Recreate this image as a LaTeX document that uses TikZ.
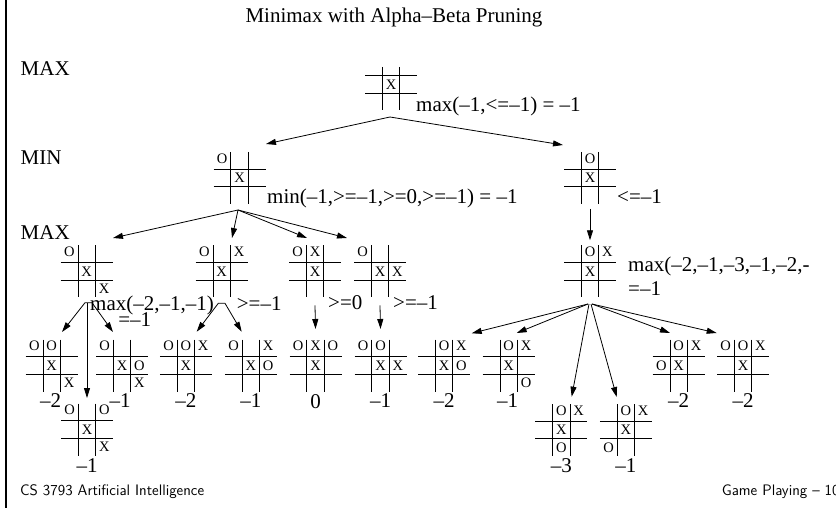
\documentclass[tikz,border=0pt]{standalone}
\usepackage{fontspec}
\setmainfont{Liberation Serif}
\usetikzlibrary{arrows.meta,calc}

% cell pitch of a tic-tac-toe board
\newcommand\tttpitch{17.3}

% the four grid lines of a board node; optional argument = how far the
% vertical lines reach above the centre
\newcommand\tttgrid[2][26]{%
  \draw[gridline]
    ([shift={(-8.65,-#1)}]#2.center) -- ([shift={(-8.65,26)}]#2.center)
    ([shift={(8.65,-#1)}]#2.center)  -- ([shift={(8.65,26)}]#2.center)
    ([shift={(-26,-8.65)}]#2.center) -- ([shift={(26,-8.65)}]#2.center)
    ([shift={(-26,8.65)}]#2.center)  -- ([shift={(26,8.65)}]#2.center);}

% one mark in column #2, row #3 (1..3) of board #1
\newcommand\tttmark[4]{%
  \node[ttt] (#1#2#3) at ([shift={({(#2-2)*\tttpitch},{(#3-2)*\tttpitch-(#3==1)*2})}]#1.center) {#4};}

\tikzset{
  gridline/.style={line width=0.8pt},
  board/.style={minimum size=52pt, inner sep=0pt, outer sep=0pt},
  ttt/.style={font=\fontsize{14.5}{14.5}\selectfont, inner sep=0pt},
  lbl/.style={font=\fontsize{21}{24}\selectfont, inner sep=0pt, anchor=base west},
  val/.style={font=\fontsize{21}{24}\selectfont, inner sep=0pt, anchor=base},
  arr/.style={line width=0.8pt, -{Triangle[length=10pt,width=6pt]}},
  foot/.style={font=\sffamily\fontsize{15.2}{17}\selectfont, inner sep=0pt, anchor=base west},
}

\begin{document}
\begin{tikzpicture}[x=1pt,y=-1pt]
\useasboundingbox (0,0) rectangle (836,508);

% left margin rule
\draw[line width=2pt] (6,-2) -- (6,510);

% title and level names
\node[val] (title) at (394,22.7) {Minimax with Alpha–Beta Pruning};
\node[lbl] (lvmax) at (20.5,76) {MAX};
\node[lbl] (lvmin) at (20.5,164.3) {MIN};
\node[lbl] (lvmaxb) at (20.5,239.3) {MAX};

% ---------------- boards ----------------
\node[board] (r)  at (391,84.5) {};
\node[board] (a)  at (239.5,178) {};
\node[board] (b)  at (590,178) {};
\node[board] (ca) at (86.7,271.3) {};
\node[board] (cb) at (221.7,271.3) {};
\node[board] (cc) at (315,271.3) {};
\node[board] (cd) at (380,271.3) {};
\node[board] (d)  at (590,271.3) {};
\node[board] (ea) at (51.7,365.5) {};
\node[board] (eb) at (122,365.5) {};
\node[board] (ec) at (87,429.5) {};
\node[board] (ed) at (185.8,365.5) {};
\node[board] (ee) at (250.8,365.5) {};
\node[board] (ef) at (315.5,365.5) {};
\node[board] (eg) at (380.5,365.5) {};
\node[board] (fa) at (444,365.5) {};
\node[board] (fb) at (508.7,365.5) {};
\node[board] (fc) at (561.3,430) {};
\node[board] (fd) at (625.8,430) {};
\node[board] (fe) at (678.7,365.5) {};
\node[board] (ff) at (743,365.5) {};

\tttgrid[17.5]{r}
\foreach \bd in {a,b,ca,cb,cc,cd,d,ea,eb,ec,ed,ee,ef,eg,fa,fb,fc,fd,fe,ff}{\tttgrid{\bd}}

% marks
\tttmark{r}{2}{2}{X}
\tttmark{a}{1}{1}{O}\tttmark{a}{2}{2}{X}
\tttmark{b}{2}{1}{O}\tttmark{b}{2}{2}{X}
\tttmark{ca}{1}{1}{O}\tttmark{ca}{2}{2}{X}\tttmark{ca}{3}{3}{X}
\tttmark{cb}{1}{1}{O}\tttmark{cb}{3}{1}{X}\tttmark{cb}{2}{2}{X}
\tttmark{cc}{1}{1}{O}\tttmark{cc}{2}{1}{X}\tttmark{cc}{2}{2}{X}
\tttmark{cd}{1}{1}{O}\tttmark{cd}{2}{2}{X}\tttmark{cd}{3}{2}{X}
\tttmark{d}{2}{1}{O}\tttmark{d}{3}{1}{X}\tttmark{d}{2}{2}{X}
\tttmark{ea}{1}{1}{O}\tttmark{ea}{2}{1}{O}\tttmark{ea}{2}{2}{X}\tttmark{ea}{3}{3}{X}
\tttmark{eb}{1}{1}{O}\tttmark{eb}{2}{2}{X}\tttmark{eb}{3}{2}{O}\tttmark{eb}{3}{3}{X}
\tttmark{ec}{1}{1}{O}\tttmark{ec}{3}{1}{O}\tttmark{ec}{2}{2}{X}\tttmark{ec}{3}{3}{X}
\tttmark{ed}{1}{1}{O}\tttmark{ed}{2}{1}{O}\tttmark{ed}{3}{1}{X}\tttmark{ed}{2}{2}{X}
\tttmark{ee}{1}{1}{O}\tttmark{ee}{3}{1}{X}\tttmark{ee}{2}{2}{X}\tttmark{ee}{3}{2}{O}
\tttmark{ef}{1}{1}{O}\tttmark{ef}{2}{1}{X}\tttmark{ef}{3}{1}{O}\tttmark{ef}{2}{2}{X}
\tttmark{eg}{1}{1}{O}\tttmark{eg}{2}{1}{O}\tttmark{eg}{2}{2}{X}\tttmark{eg}{3}{2}{X}
\tttmark{fa}{2}{1}{O}\tttmark{fa}{3}{1}{X}\tttmark{fa}{2}{2}{X}\tttmark{fa}{3}{2}{O}
\tttmark{fb}{2}{1}{O}\tttmark{fb}{3}{1}{X}\tttmark{fb}{2}{2}{X}\tttmark{fb}{3}{3}{O}
\tttmark{fc}{2}{1}{O}\tttmark{fc}{3}{1}{X}\tttmark{fc}{2}{2}{X}\tttmark{fc}{2}{3}{O}
\tttmark{fd}{2}{1}{O}\tttmark{fd}{3}{1}{X}\tttmark{fd}{2}{2}{X}\tttmark{fd}{1}{3}{O}
\tttmark{fe}{2}{1}{O}\tttmark{fe}{3}{1}{X}\tttmark{fe}{1}{2}{O}\tttmark{fe}{2}{2}{X}
\tttmark{ff}{1}{1}{O}\tttmark{ff}{2}{1}{O}\tttmark{ff}{3}{1}{X}\tttmark{ff}{2}{2}{X}

% ---------------- backed-up values ----------------
\node[lbl] (rl)  at ([shift={(25,27.5)}]r.center) {max(–1,<=–1) = –1};
\node[lbl] (al)  at ([shift={(27.5,26)}]a.center) {min(–1,>=–1,>=0,>=–1) = –1};
\node[lbl] (bl)  at ([shift={(27,26)}]b.center) {<=–1};
\node[lbl] (cal) at ([shift={(3.3,38.7)}]ca.center) {max(–2,–1,–1)};
\node[lbl] (cal2) at ([shift={(31.5,55.4)}]ca.center) {=–1};
\node[lbl] (cbl) at ([shift={(15,38.7)}]cb.center) {>=–1};
\node[lbl] (ccl) at ([shift={(13,38)}]cc.center) {>=0};
\node[lbl] (cdl) at ([shift={(13,38)}]cd.center) {>=–1};
\node[lbl] (dl)  at ([shift={(38,0.4)}]d.center) {max(–2,–1,–3,–1,–2,-};
\node[lbl] (dl2) at ([shift={(38,23.7)}]d.center) {=–1};

\node[val] (eav) at ([shift={(-1,41.5)}]ea.center) {–2};
\node[val] (ebv) at ([shift={(-2,41.5)}]eb.center) {–1};
\node[val] (ecv) at ([shift={(0,43)}]ec.center) {–1};
\node[val] (edv) at ([shift={(0,41.5)}]ed.center) {–2};
\node[val] (eev) at ([shift={(0,41.5)}]ee.center) {–1};
\node[val] (efv) at ([shift={(0,42.5)}]ef.center) {0};
\node[val] (egv) at ([shift={(0,41.5)}]eg.center) {–1};
\node[val] (fav) at ([shift={(0,41.5)}]fa.center) {–2};
\node[val] (fbv) at ([shift={(-1,41.5)}]fb.center) {–1};
\node[val] (fcv) at ([shift={(0,42)}]fc.center) {–3};
\node[val] (fdv) at ([shift={(0,42)}]fd.center) {–1};
\node[val] (fev) at ([shift={(0,41.5)}]fe.center) {–2};
\node[val] (ffv) at ([shift={(0,41.5)}]ff.center) {–2};

% ---------------- moves ----------------
\draw[arr] ([shift={(-1,32.5)}]r.center) -- ([shift={(26.5,-34)}]a.center);
\draw[arr] ([shift={(-1,32.5)}]r.center) -- ([shift={(-27,-33)}]b.center);

\draw[arr] ([shift={(-1.5,32)}]a.center) -- ([shift={(26.3,-33.3)}]ca.center);
\draw[arr] ([shift={(-1.5,32)}]a.center) -- ([shift={(10.3,-33.3)}]cb.center);
\draw[arr] ([shift={(-1.5,32)}]a.center) -- ([shift={(-8,-33.3)}]cc.center);
\draw[arr] ([shift={(-1.5,32)}]a.center) -- ([shift={(-33,-33.3)}]cd.center);

\draw[arr] ([shift={(0,31)}]b.center) -- ([shift={(0,-31)}]d.center);

\draw[arr] ([shift={(5.3,31.4)}]ca.center) -- ([shift={(-1.7,31.4)}]ca.center) -- ([shift={(10.3,-33.5)}]ea.center);
\draw[arr] ([shift={(5.3,31.4)}]ca.center) -- ([shift={(-9,-33.5)}]eb.center);
\draw[arr] ([shift={(0.3,31.4)}]ca.center) -- ([shift={(0,-31.5)}]ec.center);

\draw[arr] ([shift={(3.3,32)}]cb.center) -- ([shift={(-3.4,32)}]cb.center) -- ([shift={(10.9,-33.8)}]ed.center);
\draw[arr] ([shift={(3.3,32)}]cb.center) -- ([shift={(-9.1,-33.8)}]ee.center);

\draw[arr] ([shift={(0,34)}]cc.center) -- ([shift={(0,-36.5)}]ef.center);
\draw[arr] ([shift={(0,34)}]cd.center) -- ([shift={(0,-36.5)}]eg.center);

\draw[arr] ([shift={(-2,32.7)}]d.center) -- ([shift={(27.7,-32.2)}]fa.center);
\draw[arr] ([shift={(-2,32.7)}]d.center) -- ([shift={(8,-32.5)}]fb.center);
\draw[arr] ([shift={(-1,32.7)}]d.center) -- ([shift={(10.4,-33.3)}]fc.center);
\draw[arr] ([shift={(1,32.7)}]d.center) -- ([shift={(-9.1,-33)}]fd.center);
\draw[arr] ([shift={(2,32.7)}]d.center) -- ([shift={(-8.7,-32.5)}]fe.center);
\draw[arr] ([shift={(2,32.7)}]d.center) -- ([shift={(-26.3,-32.5)}]ff.center);

% footer
\node[foot] (course) at (20,495) {CS 3793 Artificial Intelligence};
\node[foot] (page) at (721.7,495) {Game Playing – 10};
\end{tikzpicture}
\end{document}
